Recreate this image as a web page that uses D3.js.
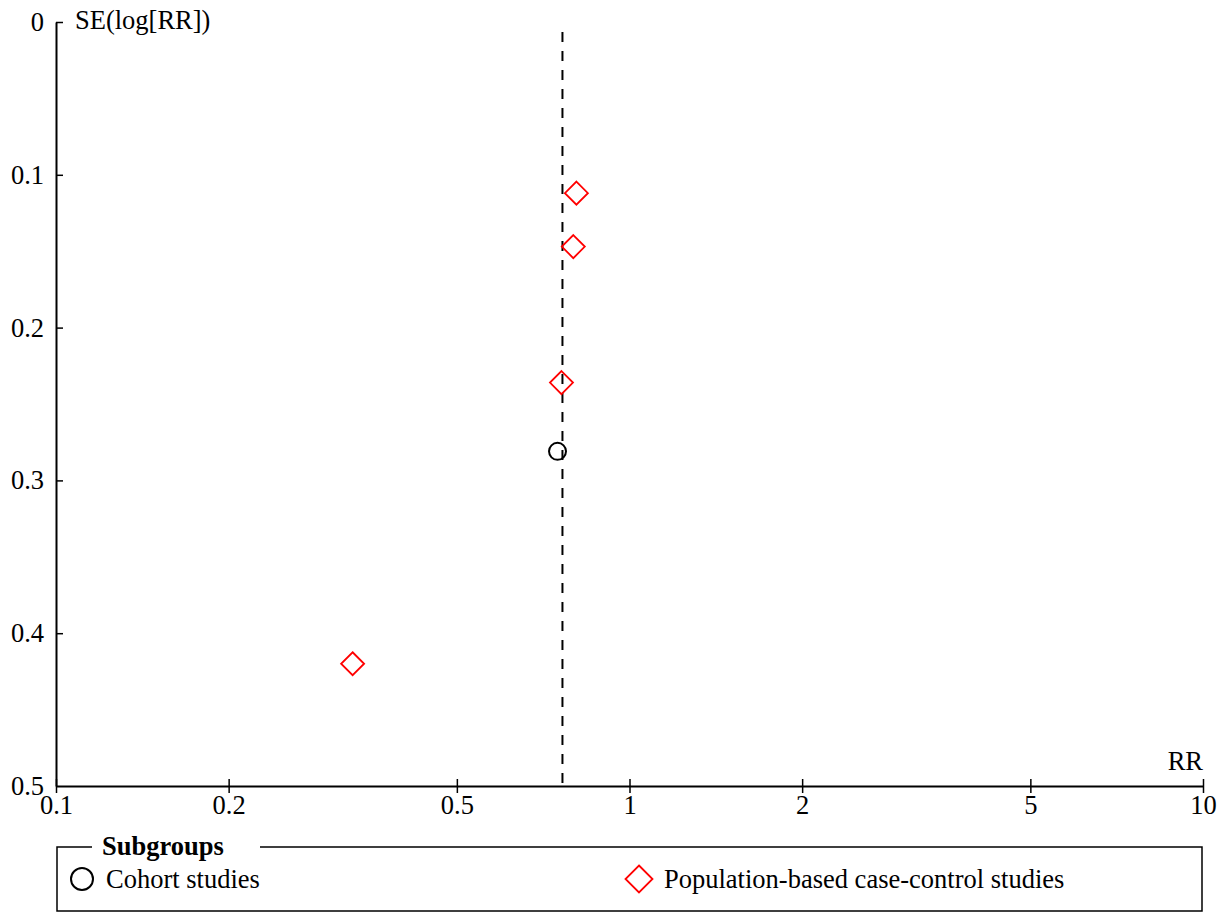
<!DOCTYPE html>
<html>
<head>
<meta charset="utf-8">
<script src="https://cdn.jsdelivr.net/npm/d3@7"></script>
<style>
  body { margin: 0; background: #fff; }
  text { font-family: "Liberation Serif", "Times New Roman", serif; }
</style>
</head>
<body>
<svg id="chart" width="1225" height="913"></svg>
<script>
// studies (RR, SE of log RR)
const cohortRR = [0.749];
const cohortSE = [0.281];
const caseControlRR = [0.808, 0.798, 0.761, 0.329];
const caseControlSE = [0.112, 0.147, 0.236, 0.420];
const pooledRR = 0.764;

const xTicks = [0.1, 0.2, 0.5, 1, 2, 5, 10];
const yTicks = [0, 0.1, 0.2, 0.3, 0.4, 0.5];
const groupNames = ['Cohort studies', 'Population-based case-control studies'];

const svg = d3.select('#chart');
const plotLeft = 56, plotRight = 1203, plotTop = 22, plotBottom = 786;

const x = d3.scaleLog().domain([0.1, 10]).range([plotLeft, plotRight]);
const y = d3.scaleLinear().domain([0, 0.5]).range([plotTop, plotBottom]);

const font = 26.5;

// axes
const xAxis = d3.axisBottom(x)
  .tickValues(xTicks)
  .tickFormat(d3.format('~g'))
  .tickSizeInner(7)
  .tickSizeOuter(0);
const gx = svg.append('g').attr('transform', `translate(0,${plotBottom})`).call(xAxis);
gx.select('.domain').attr('stroke-width', 2);
gx.selectAll('.tick line').attr('y1', -7).attr('stroke-width', 1.5);
gx.selectAll('.tick text')
  .attr('y', 9)
  .attr('font-size', font)
  .attr('font-family', '"Liberation Serif", serif')
  .attr('fill', '#000');

const yAxis = d3.axisLeft(y)
  .tickValues(yTicks)
  .tickFormat(d3.format('~g'))
  .tickSizeInner(8)
  .tickSizeOuter(0);
const gy = svg.append('g').attr('transform', `translate(${plotLeft},0)`).call(yAxis);
gy.select('.domain').attr('stroke-width', 2);
gy.selectAll('.tick line').attr('x2', 7).attr('stroke-width', 1.5);
gy.selectAll('.tick text')
  .attr('x', -12)
  .attr('font-size', font)
  .attr('font-family', '"Liberation Serif", serif')
  .attr('fill', '#000');
// bottom y tick only sticks out to the left
gy.selectAll('.tick line').filter(d => d === 0.5).attr('x2', 0);

svg.append('text')
  .attr('x', 75).attr('y', plotTop + 7)
  .attr('font-size', font)
  .text('SE(log[RR])');

svg.append('text')
  .attr('x', plotRight).attr('y', plotBottom - 16)
  .attr('text-anchor', 'end')
  .attr('font-size', font)
  .text('RR');

// pooled estimate line
svg.append('line')
  .attr('x1', x(pooledRR)).attr('x2', x(pooledRR))
  .attr('y1', plotTop + 10).attr('y2', plotBottom)
  .attr('stroke', '#000')
  .attr('stroke-width', 2)
  .attr('stroke-dasharray', '10,9');

const diamond = (cx, cy, r) =>
  `M${cx},${cy - r}L${cx + r},${cy}L${cx},${cy + r}L${cx - r},${cy}Z`;

// case-control studies
svg.append('g').selectAll('path')
  .data(caseControlRR.map((d, i) => [d, caseControlSE[i]]))
  .join('path')
  .attr('d', d => diamond(x(d[0]), y(d[1]), 11.5))
  .attr('fill', 'none')
  .attr('stroke', '#ff0000')
  .attr('stroke-width', 1.8);

// cohort studies
svg.append('g').selectAll('circle')
  .data(cohortRR.map((d, i) => [d, cohortSE[i]]))
  .join('circle')
  .attr('cx', d => x(d[0]))
  .attr('cy', d => y(d[1]))
  .attr('r', 8.5)
  .attr('fill', 'none')
  .attr('stroke', '#000')
  .attr('stroke-width', 2);

// legend
const lg = svg.append('g');
lg.append('path')
  .attr('d', `M92,847H57V911H1202V847H260`)
  .attr('fill', 'none')
  .attr('stroke', '#000')
  .attr('stroke-width', 1.5);
lg.append('text')
  .attr('x', 102).attr('y', 855)
  .attr('font-size', font)
  .attr('font-weight', 'bold')
  .text('Subgroups');
lg.append('circle')
  .attr('cx', 82).attr('cy', 879).attr('r', 11)
  .attr('fill', 'none').attr('stroke', '#000').attr('stroke-width', 2);
lg.append('text')
  .attr('x', 106).attr('y', 888)
  .attr('font-size', font)
  .text(groupNames[0]);
lg.append('path')
  .attr('d', diamond(639, 879, 13.5))
  .attr('fill', 'none').attr('stroke', '#ff0000').attr('stroke-width', 1.8);
lg.append('text')
  .attr('x', 664).attr('y', 888)
  .attr('font-size', font)
  .text(groupNames[1]);
</script>
</body>
</html>
